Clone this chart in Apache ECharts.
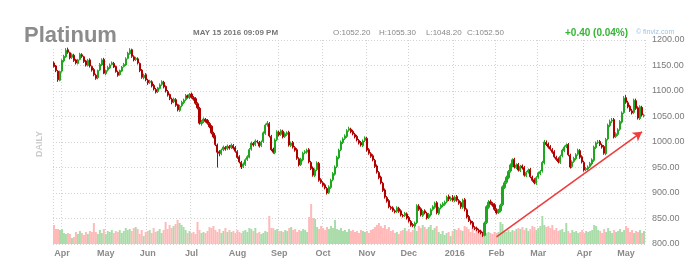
<!DOCTYPE html>
<html><head><meta charset="utf-8">
<script src="https://cdn.jsdelivr.net/npm/echarts@6/dist/echarts.min.js"></script>
<style>html,body{margin:0;padding:0;background:#fff}#c{width:693px;height:267px}</style>
</head><body><div id="c"></div>
<script>
const startDate = '2015-03-26', endDate = '2016-05-13';
const tickLabels = ['Apr','May','Jun','Jul','Aug','Sep','Oct','Nov','Dec','2016','Feb','Mar','Apr','May'];
const priceTicks = {min: 800, max: 1200, step: 50};
const opens = [
1155,1149,1139,1121,1139,1159,1167,1181,1175,1166,
1170,1161,1154,1162,1171,1167,1159,1150,1161,1148,
1142,1131,1126,1141,1151,1162,1134,1141,1145,1152,
1154,1148,1137,1132,1139,1148,1151,1164,1173,1181,
1167,1162,1163,1154,1141,1126,1132,1121,1117,1118,
1111,1103,1099,1105,1113,1117,1109,1099,1093,1084,
1079,1083,1073,1062,1071,1077,1083,1090,1087,1094,
1087,1085,1075,1066,1036,1040,1044,1042,1036,1031,
1017,1011,994,981,977,985,989,987,991,989,
993,989,981,971,960,952,956,966,970,986,
997,995,1001,999,993,1001,1017,1034,1036,1011,
986,979,1005,1019,1015,1021,1011,1015,1019,993,
999,989,985,967,956,965,979,980,985,960,
949,934,946,958,926,920,916,909,901,911,
926,937,952,969,985,999,1007,1011,1023,1025,
1021,1015,1011,1003,999,993,1003,1007,985,977,
973,964,953,940,931,919,906,891,885,872,
871,865,864,870,865,856,856,859,852,844,
838,835,842,874,869,856,865,860,852,857,
868,872,881,860,871,875,878,883,893,887,
891,885,893,885,881,872,887,867,854,845,
842,832,831,827,825,821,817,842,872,883,
879,877,867,862,865,877,911,921,930,943,
954,966,950,956,944,953,950,934,941,946,
931,926,919,931,938,943,959,999,996,991,
985,981,970,967,960,973,983,991,995,974,
952,962,967,976,983,971,960,946,947,952,
957,964,989,999,1001,994,991,977,1006,1032,
1041,1044,1011,1015,1025,1039,1058,1087,1077,1070,
1061,1058,1081,1067,1046,1068,1052.2];
const closes = [
1148,1140,1122,1138,1160,1168,1180,1176,1165,1171,
1160,1155,1161,1172,1168,1158,1151,1160,1149,1141,
1132,1125,1140,1152,1161,1135,1140,1146,1151,1155,
1147,1138,1131,1140,1147,1152,1163,1174,1180,1168,
1161,1164,1155,1140,1127,1131,1122,1116,1119,1110,
1104,1098,1106,1112,1118,1108,1100,1092,1085,1078,
1084,1072,1063,1070,1078,1082,1091,1088,1093,1088,
1084,1076,1067,1037,1039,1045,1041,1037,1030,1018,
1010,995,980,978,984,990,986,992,988,994,
988,982,970,961,951,957,965,971,985,998,
994,1002,1000,992,1000,1018,1033,1037,1012,985,
980,1004,1020,1014,1022,1010,1016,1018,994,998,
990,984,968,955,966,978,981,984,961,948,
935,945,959,925,921,915,910,900,912,925,
938,951,970,984,1000,1006,1012,1022,1026,1020,
1016,1010,1004,998,994,1002,1008,984,978,972,
965,952,941,930,920,905,892,884,873,870,
866,863,871,864,857,855,860,851,845,837,
836,841,875,868,857,864,861,851,858,867,
873,880,861,870,876,879,882,892,888,890,
886,892,886,880,873,886,868,853,846,841,
833,830,828,824,822,818,841,873,882,880,
876,868,861,866,876,912,920,931,942,955,
965,951,955,945,952,949,935,940,945,932,
925,920,930,939,942,960,1000,995,990,986,
980,971,966,961,972,984,990,994,975,951,
961,968,975,984,970,961,945,948,951,958,
965,990,998,1000,995,990,978,1005,1033,1040,
1043,1010,1016,1024,1040,1057,1086,1078,1069,1062,
1057,1082,1066,1047,1069,1053,1052.5];
const highs = [
1158,1151,1141,1140,1162,1171,1184,1185,1177,1174,
1173,1163,1163,1175,1174,1169,1161,1163,1164,1150,
1145,1134,1142,1155,1164,1165,1142,1149,1154,1158,
1157,1150,1140,1142,1149,1155,1166,1177,1184,1183,
1170,1167,1166,1156,1143,1134,1135,1124,1122,1121,
1114,1106,1108,1115,1121,1120,1111,1102,1095,1087,
1087,1086,1075,1073,1081,1085,1094,1093,1096,1097,
1090,1088,1078,1069,1043,1048,1047,1045,1039,1033,
1020,1013,997,984,987,993,992,995,994,997,
996,992,984,974,963,960,968,974,988,1001,
1000,1005,1004,1002,1003,1021,1036,1041,1039,1014,
989,1007,1023,1022,1025,1024,1019,1021,1022,1001,
1002,992,988,970,969,981,984,987,988,963,
952,948,962,961,929,923,919,912,915,928,
941,954,973,987,1003,1009,1015,1025,1030,1028,
1024,1018,1014,1006,1002,1005,1011,1010,988,980,
976,967,956,943,934,922,909,894,888,875,
874,868,874,873,868,859,863,862,855,847,
841,844,878,878,872,867,868,863,861,870,
876,883,884,873,879,882,885,895,897,893,
896,895,896,888,884,889,890,870,857,848,
845,835,834,830,828,824,844,876,886,887,
882,880,870,869,879,915,924,934,945,958,
968,969,958,959,955,956,953,943,948,949,
934,929,933,942,945,963,1004,1003,999,994,
988,984,973,970,975,987,993,997,998,977,
964,971,978,987,986,974,963,951,954,961,
968,993,1001,1004,1004,997,994,1008,1036,1044,
1047,1047,1019,1027,1043,1060,1090,1092,1081,1073,
1065,1085,1085,1070,1072,1071,1055.3];
const lows = [
1146,1137,1118,1119,1136,1156,1165,1173,1162,1163,
1157,1152,1152,1160,1165,1155,1148,1148,1146,1138,
1129,1122,1123,1139,1149,1133,1131,1138,1143,1150,
1145,1136,1128,1130,1137,1146,1149,1162,1171,1165,
1158,1159,1152,1137,1124,1123,1119,1112,1114,1107,
1101,1095,1096,1103,1110,1105,1097,1089,1082,1074,
1076,1069,1060,1059,1068,1074,1080,1085,1084,1085,
1081,1073,1064,1034,1032,1037,1038,1034,1027,1015,
1007,992,950,972,974,982,983,984,985,986,
985,979,967,958,947,949,953,963,968,983,
991,992,997,989,990,998,1014,1030,1009,982,
977,976,1002,1011,1012,1007,1008,1012,991,990,
987,981,965,952,953,962,976,977,958,945,
932,931,943,922,918,912,907,897,898,908,
923,934,949,966,982,996,1004,1008,1020,1017,
1013,1007,1001,995,991,990,1000,981,975,969,
962,949,938,927,917,902,889,881,870,867,
863,860,861,861,854,852,853,848,842,834,
833,831,839,865,854,853,858,848,849,854,
865,869,858,857,868,872,875,880,884,884,
883,882,883,877,869,869,864,850,843,838,
830,827,825,821,819,814,815,839,869,877,
873,865,858,859,862,874,908,918,927,940,
951,948,947,942,941,946,932,931,938,929,
922,917,916,928,935,940,956,992,987,983,
977,968,963,958,957,970,980,988,972,948,
949,959,964,973,967,958,942,943,944,949,
954,961,986,996,992,987,975,974,1003,1029,
1037,1007,1008,1012,1022,1036,1055,1075,1066,1059,
1054,1055,1063,1044,1043,1050,1048.2];
const volumes = [
19,15,15,14,15,11,10,11,10,6,
7,12,10,13,11,9,12,10,13,12,
21,12,10,14,11,15,10,13,12,14,
11,13,12,14,11,13,16,14,15,13,
16,17,15,10,14,8,12,13,14,11,
16,12,13,15,11,14,22,15,19,16,
18,20,24,21,19,17,14,11,13,11,
12,10,22,14,11,12,11,13,17,16,
18,14,12,15,11,13,16,12,14,12,
13,11,14,12,11,13,14,12,16,15,
13,16,11,12,10,11,13,12,28,16,
16,14,15,13,13,12,14,13,16,17,
14,15,12,14,13,15,14,12,27,40,
26,25,17,15,18,16,14,17,15,18,
16,24,15,14,16,13,14,12,15,13,
14,12,13,11,14,13,12,13,11,14,
15,17,19,21,18,16,19,15,17,13,
14,11,12,10,13,14,16,13,15,12,
14,16,13,18,16,19,17,15,17,19,
14,16,18,12,10,13,9,11,12,8,
13,15,14,16,14,13,18,17,15,12,
16,11,14,13,14,12,13,11,12,11,
10,12,11,12,22,20,13,12,14,12,
14,13,15,16,15,17,14,16,13,15,
18,17,14,16,18,28,19,17,18,16,
19,14,16,13,14,15,12,21,13,11,
14,12,13,11,12,14,11,13,12,13,
14,19,18,14,13,11,15,12,16,13,
11,14,12,13,15,12,14,18,16,12,
14,11,13,12,14,11,13];
const trendFrom = [222, 814];
const trendTo = [295, 1020];
const lastPrice = 1052.5;
const headerInfo = ['MAY 15 2016 09:09 PM','O:1052.20','H:1055.30','L:1048.20','C:1052.50','+0.40 (0.04%)','\u00a9 finviz.com'];

function tradingDays(s, e) {
  const out = [];
  let d = new Date(s + 'T00:00:00Z');
  const end = new Date(e + 'T00:00:00Z');
  while (d <= end) {
    const w = d.getUTCDay();
    if (w !== 0 && w !== 6) out.push(d.toISOString().slice(0, 10));
    d = new Date(d.getTime() + 86400000);
  }
  return out;
}
const dates = tradingDays(startDate, endDate);
const labelAt = {};
let li = 0;
for (let i = 1; i < dates.length; i++) {
  if (dates[i].slice(0, 7) !== dates[i - 1].slice(0, 7)) labelAt[i] = tickLabels[li++];
}
const candleData = dates.map((d, i) => [opens[i], closes[i], lows[i], highs[i]]);
const volData = dates.map((d, i) => ({
  value: volumes[i],
  itemStyle: { color: closes[i] >= opens[i] ? '#a9dca9' : '#ffb9b9' }
}));

const FONT = 'Liberation Sans, Arial, sans-serif';
const gridPos = { left: 53, right: 48, top: 40, bottom: 23 };
const dotted = { color: '#d2d2d2', type: [1, 2], width: 1 };

const chart = echarts.init(document.getElementById('c'), null, { renderer: 'canvas' });
chart.setOption({
  animation: false,
  backgroundColor: '#fff',
  title: {
    text: 'Platinum', left: 22, top: 25, padding: [0, 4, 0, 2], backgroundColor: '#fff', z: 10,
    textStyle: { fontSize: 22, fontWeight: 'bold', color: '#8c8c8c', fontFamily: FONT }
  },
  grid: [Object.assign({}, gridPos), Object.assign({}, gridPos)],
  xAxis: [{
    type: 'category', data: dates, gridIndex: 0,
    axisLine: { show: false }, axisTick: { show: false },
    axisLabel: {
      interval: (i) => labelAt[i] !== undefined,
      formatter: (v, i) => labelAt[i] || '',
      color: '#8a8a8a', fontSize: 9, fontWeight: 'bold', fontFamily: FONT, margin: 5
    },
    splitLine: { show: true, interval: (i) => labelAt[i] !== undefined || i === 0, lineStyle: dotted }
  }, {
    type: 'category', data: dates, gridIndex: 1, show: false
  }],
  yAxis: [{
    type: 'value', gridIndex: 0, position: 'right', min: priceTicks.min, max: priceTicks.max, interval: priceTicks.step,
    axisLine: { show: false }, axisTick: { show: false },
    axisLabel: { formatter: (v) => v.toFixed(2), color: '#7a7a7a', fontSize: 9, fontFamily: FONT, margin: 7 },
    splitLine: { show: true, lineStyle: dotted }
  }, {
    type: 'value', gridIndex: 1, min: 0, max: 204, show: false
  }],
  series: [{
    type: 'bar', xAxisIndex: 1, yAxisIndex: 1, data: volData,
    barCategoryGap: '0%', z: 1, silent: true
  }, {
    type: 'candlestick', xAxisIndex: 0, yAxisIndex: 0, data: candleData, z: 3,
    barWidth: '80%',
    itemStyle: { color: '#1fa81f', color0: '#b00000', borderColor: '#1fa81f', borderColor0: '#b00000', borderWidth: 1 },
    markLine: {
      silent: true, animation: false, symbol: ['none', 'arrow'], symbolSize: [8, 9],
      data: [
        [{ coord: trendFrom, symbol: 'none' }, { coord: trendTo, symbol: 'arrow' }],
        { yAxis: lastPrice, symbol: 'none', lineStyle: { opacity: 0 },
          label: { show: true, position: 'end', distance: 5, formatter: lastPrice.toFixed(2),
                   backgroundColor: '#ffff00', color: '#222', fontSize: 9, fontFamily: FONT, padding: [2, 2, 1, 2] } }
      ],
      lineStyle: { color: '#f03c3c', width: 1.6, type: 'solid' },
      label: { show: false }
    }
  }],
  graphic: [
    { type: 'text', z: 20, style: { x: 193, y: 33, text: headerInfo[0], fill: '#777', fontSize: 8, fontWeight: 'bold', fontFamily: FONT, verticalAlign: 'middle' } },
    { type: 'text', z: 20, style: { x: 333, y: 33, text: headerInfo[1], fill: '#888', fontSize: 8, fontFamily: FONT, verticalAlign: 'middle' } },
    { type: 'text', z: 20, style: { x: 379, y: 33, text: headerInfo[2], fill: '#888', fontSize: 8, fontFamily: FONT, verticalAlign: 'middle' } },
    { type: 'text', z: 20, style: { x: 426, y: 33, text: headerInfo[3], fill: '#888', fontSize: 8, fontFamily: FONT, verticalAlign: 'middle' } },
    { type: 'text', z: 20, style: { x: 467, y: 33, text: headerInfo[4], fill: '#888', fontSize: 8, fontFamily: FONT, verticalAlign: 'middle' } },
    { type: 'text', z: 20, style: { x: 565, y: 33, text: headerInfo[5], fill: '#35b535', fontSize: 10, fontWeight: 'bold', fontFamily: FONT, verticalAlign: 'middle' } },
    { type: 'text', z: 20, style: { x: 636, y: 32, text: headerInfo[6], fill: '#9cc3e8', fontSize: 7, fontFamily: FONT, verticalAlign: 'middle' } },
    { type: 'text', z: 20, x: 40, y: 144, rotation: Math.PI / 2,
      style: { x: 0, y: 0, text: 'DAILY', fill: '#cbcbcb', fontSize: 9, fontWeight: 'bold', fontFamily: FONT, align: 'center', verticalAlign: 'middle' } }
  ]
});
</script></body></html>
